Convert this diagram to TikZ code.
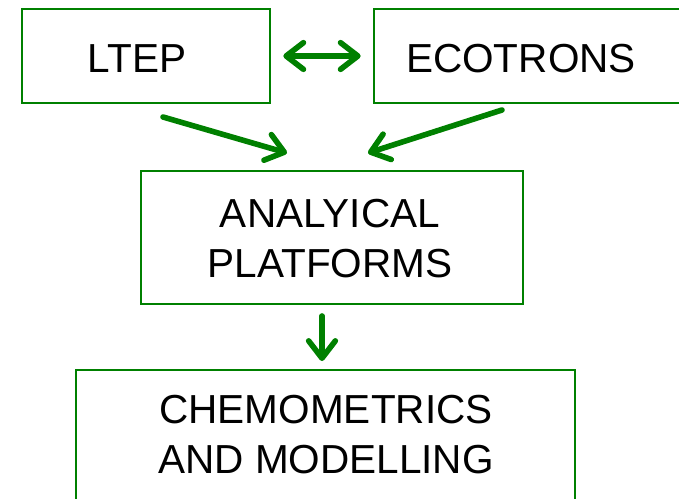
\documentclass[tikz,border=0pt]{standalone}
\usepackage{fontspec}
\setmainfont{Liberation Sans}
\usetikzlibrary{arrows.meta}
\definecolor{dgreen}{RGB}{0,128,0}
\begin{document}
\begin{tikzpicture}[x=0.75pt,y=-0.75pt,
  box/.style={draw=dgreen,line width=1.6pt,rectangle,inner sep=0pt,outer sep=0pt},
  txt/.style={font=\fontsize{30.4pt}{37.5pt}\selectfont,inner sep=0pt,align=center},
  arr/.style={draw=dgreen,line width=4.2pt,line cap=round,-{Straight Barb[round,length=13pt,width=20pt]}},
  dbl/.style={draw=dgreen,line width=4.2pt,line cap=round,{Straight Barb[round,length=13pt,width=20pt]}-{Straight Barb[round,length=13pt,width=20pt]}}
]
\useasboundingbox (0,0) rectangle (679,499);
\clip (0,0) rectangle (679,499);
% boxes
\node[box,minimum width=186pt,minimum height=70.5pt] (ltep) at (146,56) {};
\node[box,minimum width=244.5pt,minimum height=70.5pt] (eco) at (537,56) {};
\node[box,minimum width=286.5pt,minimum height=99.75pt] (ana) at (332,237.5) {};
\node[box,minimum width=374.25pt,minimum height=120pt] (chem) at (325.5,450) {};
% texts
\node[txt] (ltepT) at (137,59) {LTEP};
\node[txt] (ecoT) at (521,59) {ECOTRONS};
\node[txt] (anaT) at (330,239) {ANALYICAL\\PLATFORMS};
\node[txt] (chemT) at (326,434.5) {CHEMOMETRICS\\AND MODELLING};
% connectors
\coordinate (l1) at (163,117);
\coordinate (l2) at (287,153);
\coordinate (e1) at (502,110);
\coordinate (e2) at (368,153);
\coordinate (d1) at (322,316);
\coordinate (d2) at (322,361);
\draw[dbl] ([xshift=10pt]ltep.east) -- ([xshift=-10pt]eco.west);
\draw[arr] (l1) -- (l2);
\draw[arr] (e1) -- (e2);
\draw[arr] (d1) -- (d2);
\end{tikzpicture}
\end{document}
